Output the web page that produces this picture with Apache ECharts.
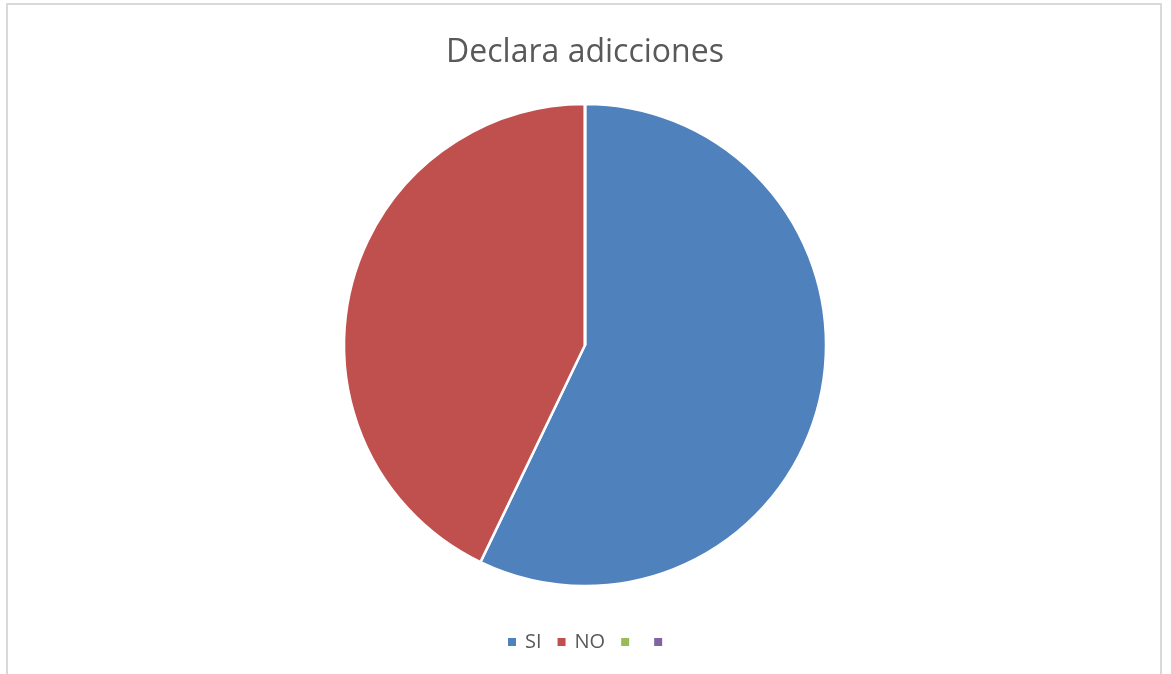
<!DOCTYPE html>
<html><head><meta charset="utf-8">
<script src="https://cdn.jsdelivr.net/npm/echarts@6/dist/echarts.min.js"></script>
<style>html,body{margin:0;padding:0;background:#fff}#c{width:1171px;height:674px}</style>
</head><body><div id="c"></div>
<script>
const categories = ['SI', 'NO', '\u200b', '\u200b\u200b'];
const values = [4, 3, 0, 0];
const colors = ['#4F81BD', '#C0504D', '#9BBB59', '#8064A2'];
const titleText = 'Declara adicciones';

const chart = echarts.init(document.getElementById('c'), null, {renderer: 'canvas'});
chart.setOption({
  backgroundColor: '#fff',
  animation: false,
  graphic: [{
    type: 'rect', shape: {x: 7, y: 4, width: 1154, height: 690},
    style: {fill: 'none', stroke: '#d9d9d9', lineWidth: 2}, silent: true, z: -1
  }],
  title: {
    text: titleText, left: 580, textAlign: 'center', top: 32,
    textStyle: {fontFamily: 'Open Sans', fontSize: 32, fontWeight: 'normal', color: '#595959'}
  },
  legend: {
    data: categories, top: 627, left: 501,
    icon: 'rect', itemWidth: 10, itemHeight: 10, itemGap: 14,
    textStyle: {fontFamily: 'Open Sans', fontSize: 20, color: '#595959', padding: [0, 0, 0, 3]}
  },
  series: [{
    type: 'pie', center: [585, 345], radius: 241, startAngle: 90, clockwise: true,
    label: {show: false}, labelLine: {show: false},
    stillShowZeroSum: true,
    itemStyle: {borderColor: '#fff', borderWidth: 2.5},
    emphasis: {disabled: true},
    data: categories.map((n, i) => ({name: n, value: values[i], itemStyle: {color: colors[i]}}))
  }]
});
</script></body></html>
